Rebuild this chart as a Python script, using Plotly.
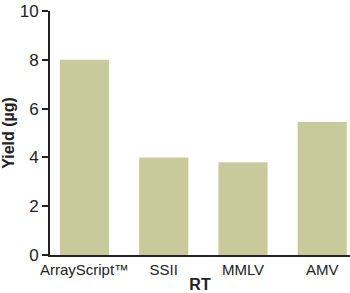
import plotly.graph_objects as go

categories = ["ArrayScript™", "SSII", "MMLV", "AMV"]
yields = [8.0, 4.0, 3.8, 5.45]
y_ticks = [0, 2, 4, 6, 8, 10]

fig = go.Figure()
fig.add_trace(go.Bar(
    x=list(range(len(categories))), y=yields,
    marker=dict(color="#c9ca9b", line=dict(width=0)),
    width=0.62,
))
font_family = "Liberation Sans, Arial, sans-serif"
fig.update_layout(
    width=350, height=293,
    margin=dict(l=50, r=0, t=11, b=38),
    paper_bgcolor="white", plot_bgcolor="white",
    showlegend=False,
    font=dict(family=font_family, size=15, color="#222"),
    bargap=0.38,
)
fig.update_xaxes(
    tickmode="array", tickvals=list(range(len(categories))), ticktext=categories,
    range=[-0.435, 3.35], showline=True, linecolor="#222", linewidth=2,
    ticks="", showgrid=False, zeroline=False,
    title=dict(text="<b>RT</b>", standoff=2, font=dict(size=16)),
    tickfont=dict(size=15),
)
fig.update_yaxes(
    range=[0, 10], tickvals=y_ticks, showline=True, linecolor="#222", linewidth=2,
    ticks="outside", ticklen=6, tickwidth=1.5, tickcolor="#222",
    showgrid=False, zeroline=False,
    title=dict(text="<b>Yield (µg)</b>", standoff=6, font=dict(size=16)),
    tickfont=dict(size=17),
)
fig.write_html("out.html")
